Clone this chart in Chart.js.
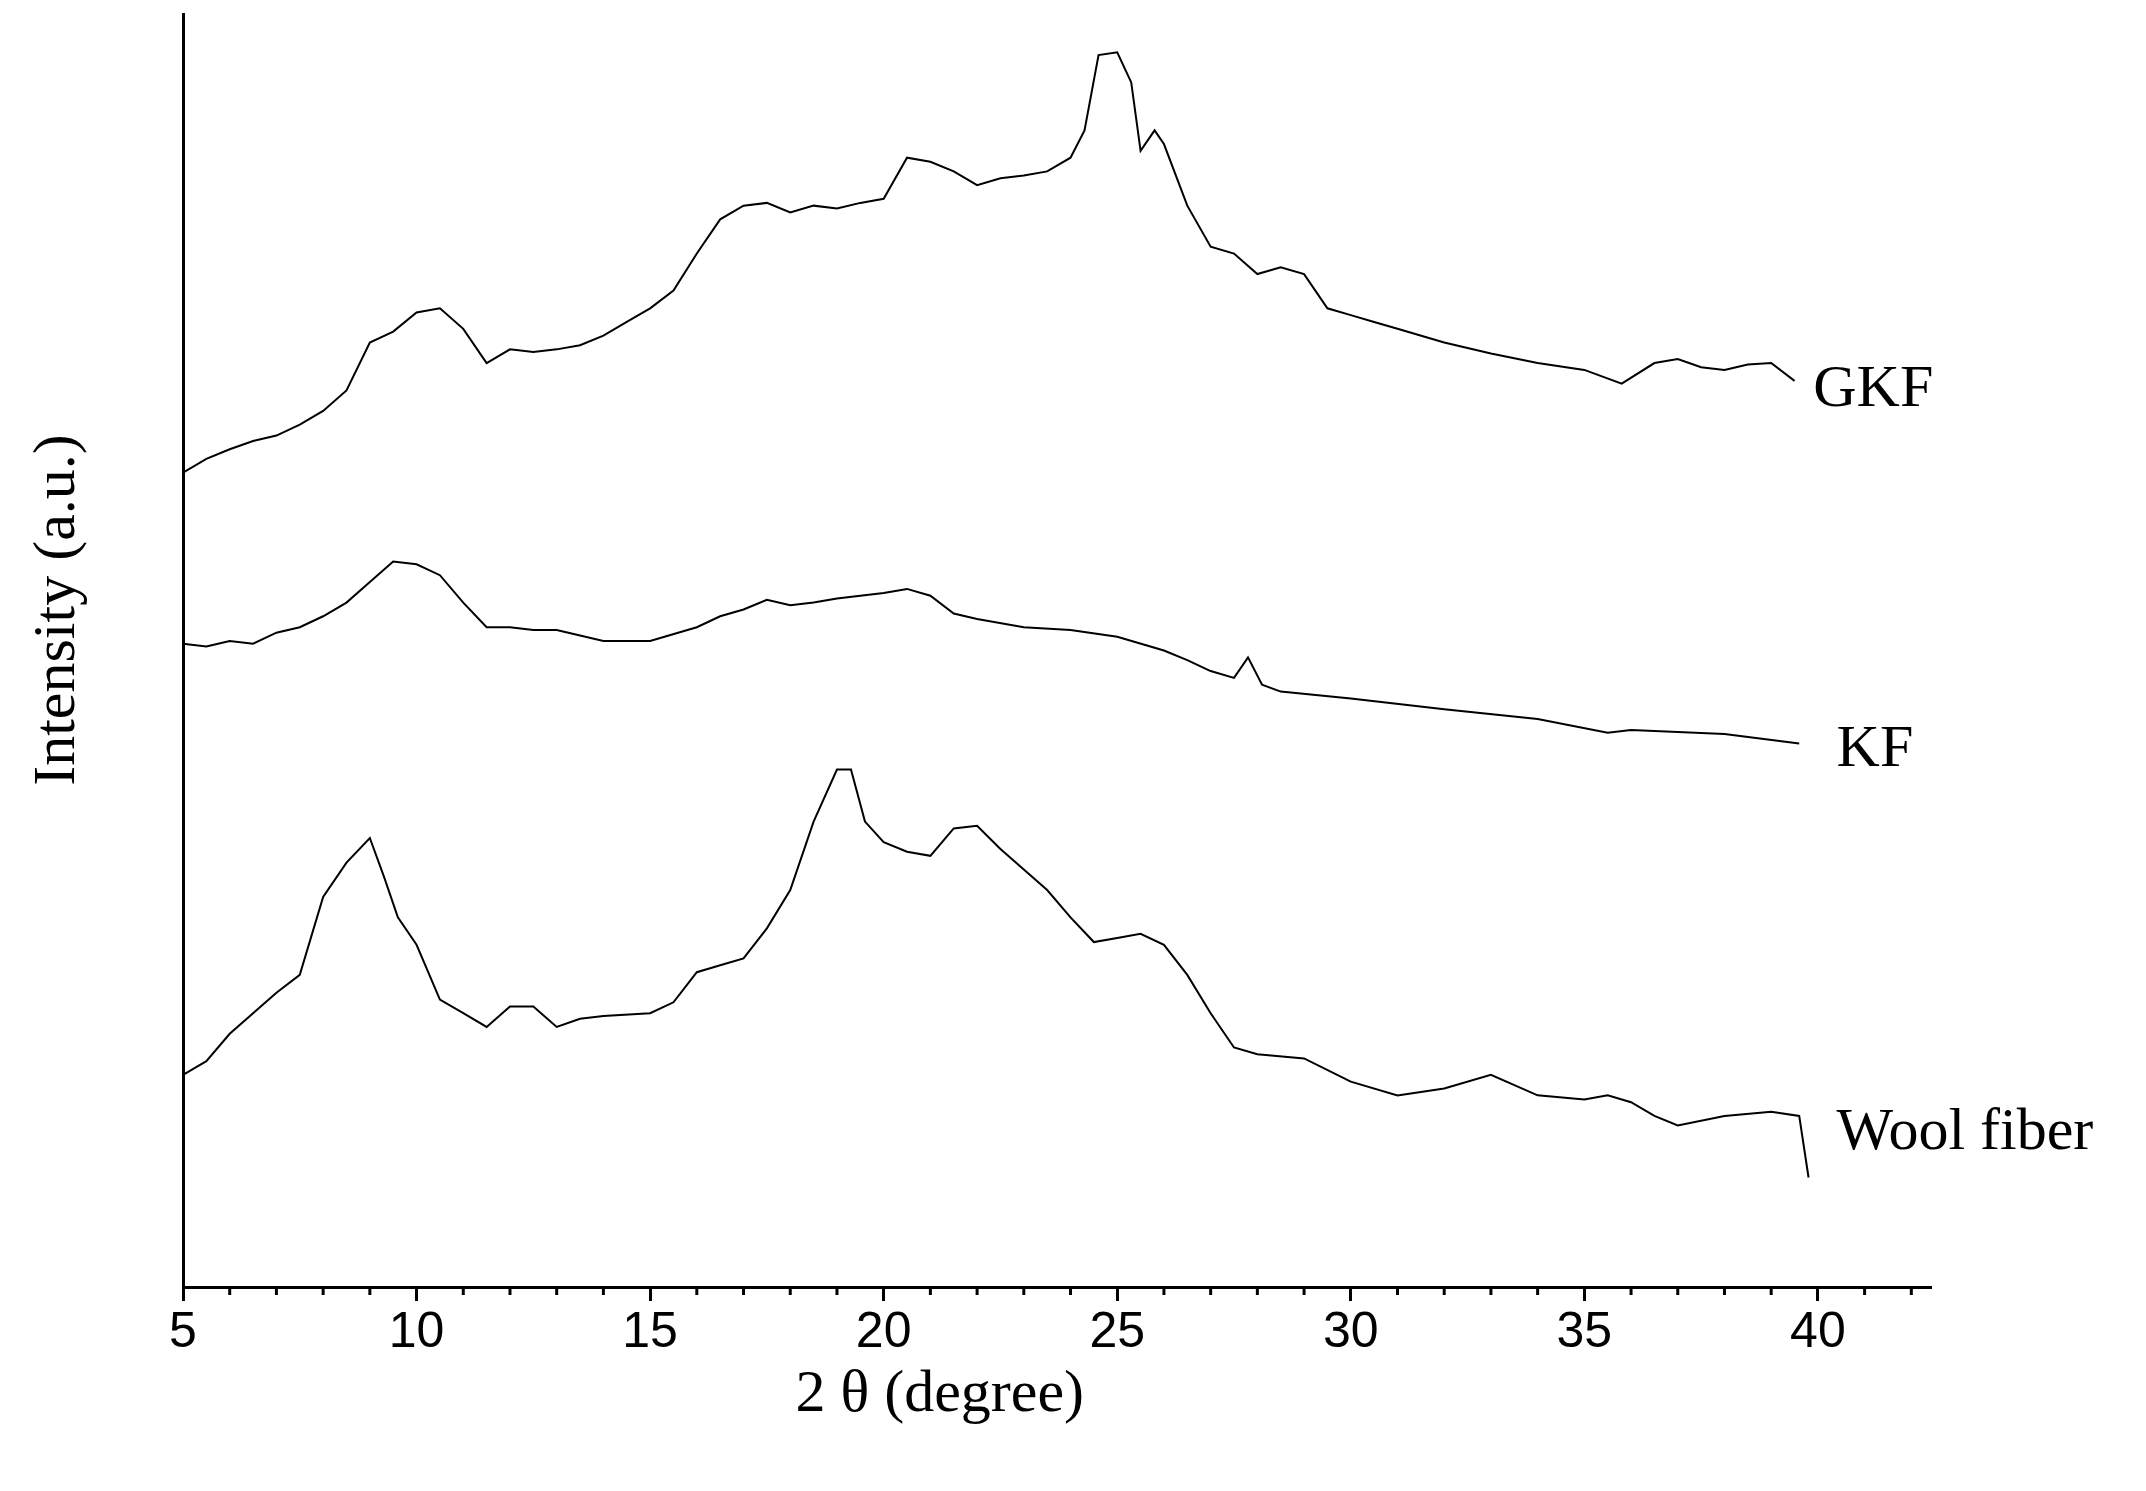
<!DOCTYPE html>
<html><head><meta charset="utf-8">
<script src="https://cdn.jsdelivr.net/npm/chart.js@4/dist/chart.umd.min.js"></script>
<style>html,body{margin:0;padding:0;background:#fff}#wrap{width:2146px;height:1491px}</style>
</head><body><div id="wrap"><canvas id="mycanvas"></canvas></div>
<script>
// 2θ positions and intensity (arbitrary units, stacked offsets as in the figure)
var gkfX = [5,5.5,6,6.5,7,7.5,8,8.5,9,9.5,10,10.5,11,11.5,12,12.5,13,13.5,14,14.5,15,15.5,16,16.5,17,17.5,18,18.5,19,19.5,20,20.5,21,21.5,22,22.5,23,23.5,24,24.3,24.6,25,25.3,25.5,25.8,26,26.5,27,27.5,28,28.5,29,29.5,30,30.5,31,32,33,34,35,35.8,36.5,37,37.5,38,38.5,39,39.5];
var gkfY = [595,605,612,618,622,630,640,655,690,698,712,715,700,675,685,683,685,688,695,705,715,728,755,780,790,792,785,790,788,792,795,825,822,815,805,810,812,815,825,845,900,902,880,830,845,835,790,760,755,740,745,740,715,710,705,700,690,682,675,670,660,675,678,672,670,674,675,662];
var kfX = [5,5.5,6,6.5,7,7.5,8,8.5,9,9.5,10,10.5,11,11.5,12,12.5,13,13.5,14,15,16,16.5,17,17.5,18,18.5,19,19.5,20,20.5,21,21.5,22,23,24,25,26,26.5,27,27.5,27.8,28.1,28.5,30,32,34,35.5,36,38,39.6];
var kfY = [470,468,472,470,478,482,490,500,515,530,528,520,500,482,482,480,480,476,472,472,482,490,495,502,498,500,503,505,507,510,505,492,488,482,480,475,465,458,450,445,460,440,435,430,422,415,405,407,404,397];
var woolX = [5,5.5,6,6.5,7,7.5,8,8.5,9,9.3,9.6,10,10.5,11,11.5,12,12.5,13,13.5,14,15,15.5,16,16.5,17,17.5,18,18.5,19,19.3,19.6,20,20.5,21,21.5,22,22.5,23,23.5,24,24.5,25,25.5,26,26.5,27,27.5,28,29,30,31,32,33,34,35,35.5,36,36.5,37,38,39,39.6,39.8];
var woolY = [155,165,185,200,215,228,285,310,328,300,270,250,210,200,190,205,205,190,196,198,200,208,230,235,240,262,290,340,378,378,340,325,318,315,335,337,320,305,290,270,252,255,258,250,228,200,175,170,167,150,140,145,155,140,137,140,135,125,118,125,128,125,80];
var xTicks = [5,10,15,20,25,30,35,40];
var seriesNames = ["GKF","KF","Wool fiber"];
var labelX = [39.9, 40.4, 40.4];
var labelY = [655, 392, 112];

function pts(xs, ys){ return xs.map(function(x,i){ return {x:x, y:ys[i]}; }); }

var extras = {
  id: 'extras',
  afterDraw: function(chart){
    var c = chart.ctx, xs = chart.scales.x, ys = chart.scales.y, a = chart.chartArea;
    c.save();
    c.strokeStyle = '#000'; c.lineWidth = 3;
    for (var v = 5; v <= 42; v++) {
      if (v % 5 === 0) continue;
      var px = xs.getPixelForValue(v);
      c.beginPath(); c.moveTo(px, a.bottom); c.lineTo(px, a.bottom + 8); c.stroke();
    }
    c.fillStyle = '#000';
    c.font = '60px "Liberation Serif", serif';
    c.textBaseline = 'middle';
    seriesNames.forEach(function(n, i){
      c.fillText(n, xs.getPixelForValue(labelX[i]), ys.getPixelForValue(labelY[i]));
    });
    c.textAlign = 'center';
    c.fillText('2 \u03b8 (degree)', xs.getPixelForValue(21.2), 1395);
    c.translate(58, 610); c.rotate(-Math.PI/2);
    c.fillText('Intensity (a.u.)', 0, 0);
    c.restore();
  }
};

function ds(label, xs, ys){
  return { label: label, data: pts(xs, ys), borderColor: '#000', borderWidth: 2,
           pointRadius: 0, fill: false, tension: 0 };
}

new Chart(document.getElementById('mycanvas'), {
  type: 'line',
  data: { datasets: [ds(seriesNames[0], gkfX, gkfY), ds(seriesNames[1], kfX, kfY), ds(seriesNames[2], woolX, woolY)] },
  options: {
    responsive: true, maintainAspectRatio: false, animation: false,
    layout: { padding: { top: 14, right: 216, left: 0, bottom: 0 } },
    plugins: { legend: { display: false }, tooltip: { enabled: false } },
    scales: {
      x: {
        type: 'linear', min: 5, max: 42.4,
        afterBuildTicks: function(s){ s.ticks = xTicks.map(function(v){ return {value:v}; }); },
        afterFit: function(s){ s.height = 204; },
        border: { color: '#000', width: 3 },
        grid: { drawOnChartArea: false, color: '#000', lineWidth: 3, tickLength: 14 },
        ticks: { color: '#000', font: { family: 'Liberation Sans', size: 50 }, padding: 2, maxRotation: 0 }
      },
      y: {
        min: 0, max: 930,
        afterFit: function(s){ s.width = 183; },
        border: { color: '#000', width: 3 },
        grid: { display: false },
        ticks: { display: false }
      }
    }
  },
  plugins: [extras]
});
</script>
</body></html>
